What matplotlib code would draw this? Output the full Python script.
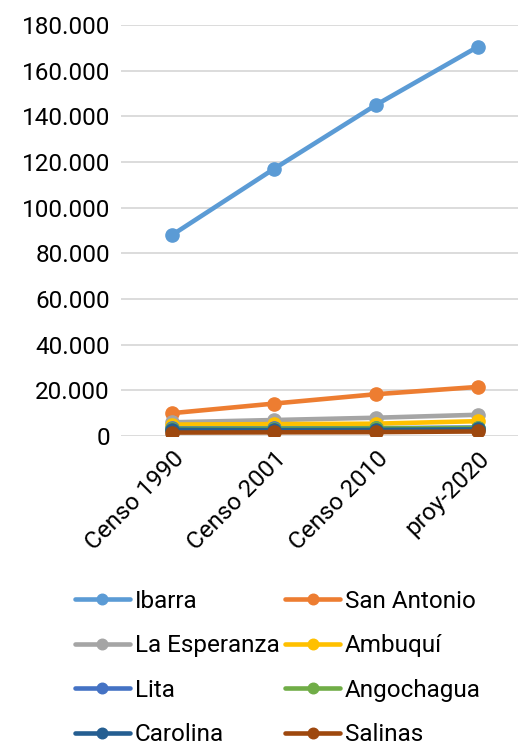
import matplotlib.pyplot as plt
from matplotlib.ticker import FuncFormatter

plt.rcParams['font.family'] = ['Roboto', 'DejaVu Sans']

categories = ['Censo 1990', 'Censo 2001', 'Censo 2010', 'proy-2020']
series = ['Ibarra', 'San Antonio', 'La Esperanza', 'Ambuquí',
          'Lita', 'Angochagua', 'Carolina', 'Salinas']
ibarra = [88000, 117000, 145000, 170500]
san_antonio = [10000, 14200, 18300, 21500]
la_esperanza = [6000, 7000, 8000, 9300]
ambuqui = [5000, 5200, 5400, 6500]
lita = [3300, 3300, 3400, 3700]
angochagua = [3100, 3200, 3300, 3500]
carolina = [2700, 2600, 2700, 2900]
salinas = [1500, 1600, 1700, 2000]
values = [ibarra, san_antonio, la_esperanza, ambuqui, lita, angochagua, carolina, salinas]
colors = ['#5B9BD5', '#ED7D31', '#A5A5A5', '#FFC000',
          '#4472C4', '#70AD47', '#255E91', '#9E480E']

fig = plt.figure(figsize=(5.18, 7.45), dpi=100)
ax = fig.add_axes([121 / 518, 1 - 436 / 745, 408 / 518, 411 / 745])

x = range(len(categories))
lines = []
for name, v, c in zip(series, values, colors):
    ln, = ax.plot(x, v, color=c, linewidth=3.3, marker='o', markersize=9.5,
                  solid_capstyle='round', label=name)
    lines.append(ln)

ax.set_ylim(0, 180000)
ax.set_xlim(-0.5, 3.5)
ax.set_yticks(range(0, 180001, 20000))
ax.yaxis.set_major_formatter(FuncFormatter(lambda v, p: f'{int(v):,}'.replace(',', '.')))
ax.grid(axis='y', color='#D9D9D9', linewidth=1.3)
ax.set_axisbelow(True)
for s in ax.spines.values():
    s.set_visible(False)
ax.tick_params(length=0, labelsize=17.5, pad=8)
ax.set_xticks(list(x))
ax.set_xticklabels(categories, rotation=45, ha='right', rotation_mode='anchor')

# row-wise legend order (matplotlib fills column by column)
order = [0, 2, 4, 6, 1, 3, 5, 7]
fig.legend([lines[i] for i in order], [series[i] for i in order],
           loc='upper left', bbox_to_anchor=(75 / 518, 1 - 590 / 745), ncol=2,
           frameon=False, fontsize=17.5, handlelength=2.25, handletextpad=0.2,
           columnspacing=0.25, labelspacing=0.88, borderaxespad=0, borderpad=0,
           markerscale=0.8)

fig.savefig('out.png', dpi=100)
